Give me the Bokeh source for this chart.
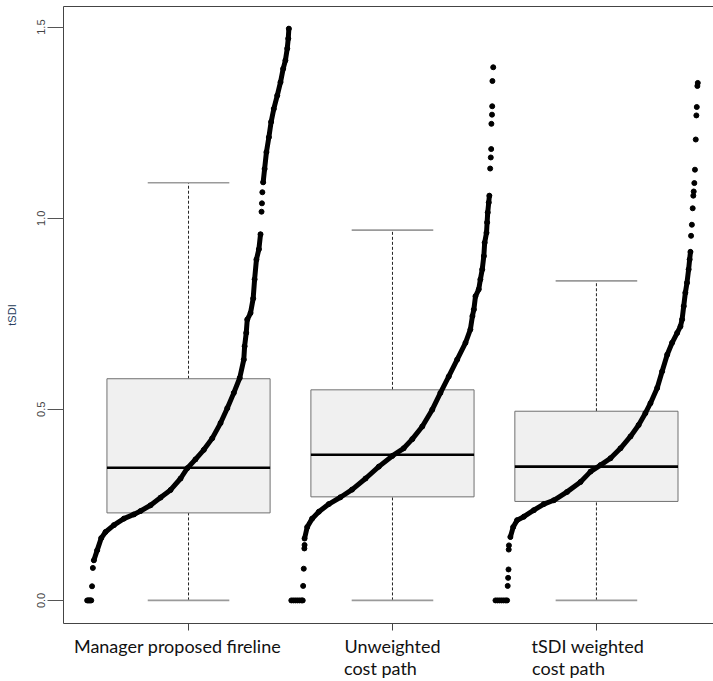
import numpy as np
from bokeh.plotting import figure
from bokeh.models import FixedTicker, LinearAxis, Range1d
from bokeh.embed import file_html
from bokeh.resources import INLINE

# ---------------- data ----------------
group_labels = ["Manager proposed fireline", "Unweighted\ncost path", "tSDI weighted\ncost path"]
whisker_low = [0.0, 0.0, 0.0]
q1 = [0.229, 0.271, 0.259]
median = [0.347, 0.381, 0.350]
q3 = [0.580, 0.551, 0.495]
whisker_high = [1.093, 0.969, 0.836]
y_ticks = [0.0, 0.5, 1.0, 1.5]
y_tick_labels = ["0.0", "0.5", "1.0", "1.5"]

# sorted tSDI values: percentile rank within group -> value
g1_curve_pct = [0.036, 0.052, 0.072, 0.093, 0.134, 0.183, 0.232, 0.265, 0.314, 0.363, 0.412, 0.461, 0.494,
                0.534, 0.575, 0.616, 0.657, 0.690, 0.722, 0.751, 0.771, 0.775, 0.783, 0.788, 0.804, 0.817,
                0.824, 0.833, 0.845, 0.853]
g1_curve_val = [0.105, 0.131, 0.163, 0.179, 0.197, 0.214, 0.225, 0.234, 0.249, 0.269, 0.289, 0.319, 0.346,
                0.369, 0.394, 0.424, 0.464, 0.503, 0.543, 0.582, 0.630, 0.665, 0.700, 0.735, 0.752, 0.790,
                0.840, 0.892, 0.919, 0.958]
g1_top_pct = [0.866, 0.873, 0.882, 0.894, 0.905, 0.918, 0.935, 0.951, 0.964, 0.975, 0.984, 0.989, 0.992]
g1_top_val = [1.094, 1.129, 1.173, 1.212, 1.252, 1.286, 1.321, 1.356, 1.391, 1.413, 1.444, 1.470, 1.496]
g1_pts_pct = [0.003, 0.008, 0.013, 0.018, 0.023, 0.027, 0.031, 0.858, 0.860, 0.862]
g1_pts_val = [0.0, 0.0, 0.0, 0.0, 0.0, 0.037, 0.085, 1.017, 1.039, 1.068]

g2_curve_pct = [0.069, 0.082, 0.106, 0.139, 0.188, 0.245, 0.302, 0.368, 0.433, 0.499, 0.555, 0.597, 0.646,
                0.695, 0.735, 0.776, 0.817, 0.858, 0.882, 0.892, 0.899, 0.907, 0.923, 0.931, 0.940, 0.948,
                0.952, 0.961, 0.964, 0.967, 0.972, 0.975]
g2_curve_val = [0.162, 0.192, 0.214, 0.232, 0.252, 0.270, 0.290, 0.319, 0.350, 0.378, 0.398, 0.422, 0.455,
                0.499, 0.543, 0.586, 0.630, 0.674, 0.709, 0.744, 0.761, 0.796, 0.814, 0.840, 0.866, 0.901,
                0.936, 0.962, 0.989, 1.015, 1.041, 1.059]
g2_pts_pct = [0.004, 0.014, 0.024, 0.034, 0.044, 0.054, 0.060, 0.062, 0.065, 0.068, 0.069,
              0.979, 0.982, 0.984, 0.985, 0.988, 0.989, 0.990, 0.994]
g2_pts_val = [0.0, 0.0, 0.0, 0.0, 0.0, 0.0, 0.0, 0.038, 0.083, 0.136, 0.145,
              1.130, 1.159, 1.181, 1.247, 1.271, 1.293, 1.359, 1.395]

g3_curve_pct = [0.078, 0.092, 0.111, 0.144, 0.193, 0.242, 0.291, 0.356, 0.422, 0.471, 0.520, 0.569, 0.618,
                0.667, 0.707, 0.740, 0.765, 0.798, 0.822, 0.847, 0.871, 0.896, 0.912, 0.920, 0.928, 0.936,
                0.944, 0.952, 0.957, 0.961]
g3_curve_val = [0.166, 0.192, 0.210, 0.219, 0.236, 0.252, 0.262, 0.284, 0.310, 0.337, 0.354, 0.372, 0.398,
                0.429, 0.459, 0.490, 0.516, 0.556, 0.599, 0.643, 0.674, 0.700, 0.717, 0.735, 0.770, 0.805,
                0.831, 0.866, 0.892, 0.912]
g3_pts_pct = [0.005, 0.015, 0.025, 0.035, 0.045, 0.055, 0.062, 0.065, 0.067, 0.069, 0.070, 0.071,
              0.964, 0.968, 0.972, 0.975, 0.977, 0.980, 0.983, 0.987, 0.990, 0.992, 0.995, 0.997]
g3_pts_val = [0.0, 0.0, 0.0, 0.0, 0.0, 0.0, 0.0, 0.038, 0.059, 0.081, 0.133, 0.144,
              0.954, 0.983, 1.026, 1.059, 1.070, 1.092, 1.127, 1.206, 1.269, 1.291, 1.346, 1.354]

# ---------------- figure ----------------
p = figure(width=713, height=681, output_backend="svg", toolbar_location=None,
           x_range=Range1d(0.387, 3.574), y_range=Range1d(-0.0604, 1.554),
           min_border_left=63, min_border_right=0, min_border_top=6, min_border_bottom=58)
p.outline_line_color = None
p.grid.visible = False
p.background_fill_color = "white"

pos = np.arange(1, len(group_labels) + 1)

# whiskers (dashed)
p.segment(x0=pos, y0=np.array(q3), x1=pos, y1=np.array(whisker_high), line_color="#222222",
          line_width=1, line_dash="3 2")
p.segment(x0=pos, y0=np.array(whisker_low), x1=pos, y1=np.array(q1), line_color="#222222",
          line_width=1, line_dash="3 2")
# caps
for w in (whisker_low, whisker_high):
    p.segment(x0=pos - 0.2, y0=np.array(w), x1=pos + 0.2, y1=np.array(w), line_color="#9a9a9a", line_width=1.6)
# boxes
p.quad(left=pos - 0.4, right=pos + 0.4, bottom=q1, top=q3, fill_color="#f0f0f0", line_color="#707070",
       line_width=1)
# medians
p.segment(x0=pos - 0.4, y0=np.array(median), x1=pos + 0.4, y1=np.array(median), line_color="black",
          line_width=2.6)

# sorted points
curves = [
    (1, [(g1_curve_pct, g1_curve_val), (g1_top_pct, g1_top_val)], (g1_pts_pct, g1_pts_val)),
    (2, [(g2_curve_pct, g2_curve_val)], (g2_pts_pct, g2_pts_val)),
    (3, [(g3_curve_pct, g3_curve_val)], (g3_pts_pct, g3_pts_val)),
]
for g, segs, pts in curves:
    for pc, vv in segs:
        xs = g - 0.5 + np.array(pc)
        p.line(xs, vv, line_color="black", line_width=5, line_join="round", line_cap="round")
        p.scatter(xs, vv, size=5, fill_color="black", line_color="black")
    xs = g - 0.5 + np.array(pts[0])
    p.scatter(xs, pts[1], size=5, fill_color="black", line_color="black")

# y axis
ya = p.yaxis[0]
ya.ticker = FixedTicker(ticks=y_ticks)
ya.major_label_overrides = {t: l for t, l in zip(y_ticks, y_tick_labels)}
ya.major_label_orientation = "vertical"
ya.major_label_text_font = "Liberation Sans"
ya.major_label_text_font_size = "11px"
ya.major_label_text_color = "#444444"
ya.major_tick_out = 16
ya.major_tick_in = 0
ya.minor_tick_line_color = None
ya.major_tick_line_color = "#555555"
ya.axis_line_color = "#444444"
ya.major_label_standoff = 2
ya.axis_label = "tSDI"
ya.axis_label_text_font = "Liberation Sans"
ya.axis_label_text_font_size = "11px"
ya.axis_label_text_font_style = "normal"
ya.axis_label_text_color = "#2a3f5f"
ya.axis_label_standoff = 17

# x axis: ticks only
xa = p.xaxis[0]
xa.ticker = FixedTicker(ticks=list(pos))
xa.major_label_overrides = {int(g): " " for g in pos}
xa.major_label_text_font_size = "1px"
xa.major_label_standoff = 0
xa.major_tick_out = 7
xa.major_tick_in = 0
xa.minor_tick_line_color = None
xa.major_tick_line_color = "#444444"
xa.axis_line_color = "#444444"

# top border
top = LinearAxis(ticker=FixedTicker(ticks=[]), major_tick_out=0, major_tick_in=0, minor_tick_out=0,
                 minor_tick_in=0, major_label_standoff=0, axis_line_color="#444444")
p.add_layout(top, "above")

# category labels (left-aligned blocks), one axis per text line
line_centre_off = [[-0.054, 0.0, -0.042], [None, -0.059, -0.137]]
line_standoff = [0, -3]
for row, (offs, stand) in enumerate(zip(line_centre_off, line_standoff)):
    ticks, over = [], {}
    for g, txt, off in zip(pos, group_labels, offs):
        parts = txt.split("\n")
        if off is None or row >= len(parts):
            continue
        t = round(float(g + off), 4)
        ticks.append(t)
        over[t] = parts[row]
    ax = LinearAxis(ticker=FixedTicker(ticks=ticks), major_label_overrides=over,
                    axis_line_color=None, major_tick_line_color=None, minor_tick_line_color=None,
                    major_tick_out=0, major_tick_in=0, minor_tick_out=0, minor_tick_in=0,
                    major_label_standoff=stand, major_label_text_font="Lato",
                    major_label_text_font_size="18px", major_label_text_color="#111111")
    p.add_layout(ax, "below")

open("out.html", "w").write(file_html(p, INLINE))
